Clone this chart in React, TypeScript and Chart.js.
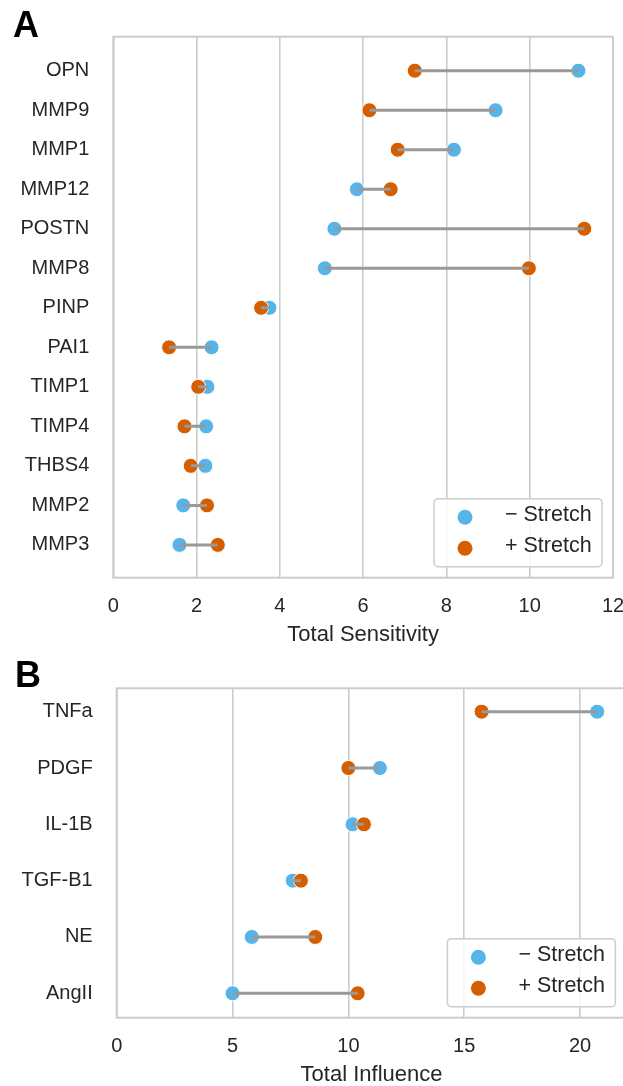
import React, { useEffect, useRef } from 'react';
import { Chart, registerables } from 'chart.js';

Chart.register(...registerables);

// ---------- Data ----------
const markersA = ['OPN', 'MMP9', 'MMP1', 'MMP12', 'POSTN', 'MMP8', 'PINP', 'PAI1', 'TIMP1', 'TIMP4', 'THBS4', 'MMP2', 'MMP3'];
const minusStretchA = [11.17, 9.18, 8.18, 5.85, 5.31, 5.08, 3.75, 2.36, 2.26, 2.23, 2.21, 1.68, 1.59];
const plusStretchA = [7.24, 6.15, 6.83, 6.66, 11.31, 9.98, 3.55, 1.34, 2.04, 1.71, 1.86, 2.25, 2.51];
const xTicksA = [0, 2, 4, 6, 8, 10, 12];

const stimuliB = ['TNFa', 'PDGF', 'IL-1B', 'TGF-B1', 'NE', 'AngII'];
const minusStretchB = [20.74, 11.36, 10.18, 7.6, 5.83, 5.0];
const plusStretchB = [15.75, 10.0, 10.67, 7.95, 8.57, 10.4];
const xTicksB = [0, 5, 10, 15, 20];

const seriesLabels = ['\u2212 Stretch', '+ Stretch'];
const seriesColors = ['#56B4E9', '#D55E00'];

const FONT = "'Liberation Sans', Arial, Helvetica, sans-serif";
const TEXT = '#262626';
const GRID = '#cccccc';

const frameLegendPlugin = {
  id: 'frameLegend',
  beforeDatasetsDraw(chart: any) {
    const { ctx, chartArea: a } = chart;
    ctx.save();
    ctx.strokeStyle = GRID;
    ctx.lineWidth = 2;
    ctx.strokeRect(a.left, a.top, a.right - a.left, a.bottom - a.top);
    ctx.restore();
  },
  afterDraw(chart: any) {
    const { ctx, chartArea: a } = chart;
    const w = 168;
    const h = 68;
    const right = a.right - 11;
    const bottom = a.bottom - 11;
    const left = right - w;
    const top = bottom - h;
    ctx.save();
    ctx.beginPath();
    ctx.roundRect(left, top, w, h, 4);
    ctx.fillStyle = 'rgba(255,255,255,0.85)';
    ctx.fill();
    ctx.strokeStyle = GRID;
    ctx.lineWidth = 1.5;
    ctx.stroke();
    seriesLabels.forEach((lab, k) => {
      const y = top + 18.5 + k * 31;
      ctx.beginPath();
      ctx.arc(left + 31, y, 7.5, 0, Math.PI * 2);
      ctx.fillStyle = seriesColors[k];
      ctx.fill();
      ctx.fillStyle = TEXT;
      ctx.font = `21.5px ${FONT}`;
      ctx.textAlign = 'left';
      ctx.textBaseline = 'middle';
      ctx.fillText(lab, left + 71, y - 2);
    });
    ctx.restore();
  },
};

function makeConfig(
  cats: string[],
  minus: number[],
  plus: number[],
  xTicks: number[],
  xMax: number,
  yMin: number,
  yMax: number,
  yAxisWidth: number,
  title: string,
  padding: any
) {
  const lineSets = cats.map((_, i) => ({
    type: 'scatter',
    data: [
      { x: minus[i], y: i },
      { x: plus[i], y: i },
    ],
    showLine: true,
    borderColor: '#999999',
    borderWidth: 3,
    pointRadius: 0,
    order: 0,
  }));
  const pointSet = (vals: number[], k: number, order: number) => ({
    label: seriesLabels[k],
    data: vals.map((v, i) => ({ x: v, y: i })),
    backgroundColor: seriesColors[k],
    borderColor: '#ffffff',
    borderWidth: 1,
    pointRadius: 7.5,
    order,
  });
  return {
    type: 'scatter',
    data: {
      datasets: [pointSet(minus, 0, 2), pointSet(plus, 1, 1), ...lineSets],
    },
    options: {
      animation: false,
      responsive: false,
      layout: { padding },
      plugins: { legend: { display: false }, tooltip: { enabled: false } },
      scales: {
        x: {
          type: 'linear',
          position: 'bottom',
          min: 0,
          max: xMax,
          afterBuildTicks: (s: any) => {
            s.ticks = xTicks.map((v) => ({ value: v }));
          },
          afterFit: (s: any) => {
            s.height = 82.3;
            s.paddingLeft = 0;
            s.paddingRight = 0;
          },
          grid: { color: GRID, lineWidth: 1.6, drawTicks: false },
          border: { display: false },
          ticks: { color: TEXT, font: { size: 20, family: FONT }, padding: 17, maxRotation: 0 },
          title: {
            display: true,
            text: title,
            color: TEXT,
            font: { size: 22, family: FONT },
            padding: { top: 0, bottom: 12 },
          },
        },
        y: {
          type: 'linear',
          reverse: true,
          min: yMin,
          max: yMax,
          afterBuildTicks: (s: any) => {
            s.ticks = cats.map((_, i) => ({ value: i }));
          },
          afterFit: (s: any) => {
            s.width = yAxisWidth;
            s.paddingTop = 0;
            s.paddingBottom = 0;
          },
          grid: { display: false, drawTicks: false },
          border: { display: false },
          ticks: {
            color: TEXT,
            font: { size: 20, family: FONT },
            padding: 24,
            callback: (v: any) => cats[Math.round(v)] ?? '',
          },
        },
      },
    },
    plugins: [frameLegendPlugin],
  };
}

export default function App() {
  const refA = useRef<HTMLCanvasElement>(null);
  const refB = useRef<HTMLCanvasElement>(null);

  useEffect(() => {
    Chart.defaults.font.family = FONT;
    const a = new Chart(
      refA.current as HTMLCanvasElement,
      makeConfig(markersA, minusStretchA, plusStretchA, xTicksA, 12, -0.86, 12.83, 113.3, 'Total Sensitivity', {
        top: 36.7,
        right: 10,
        bottom: 0,
        left: 0,
      }) as any
    );
    const b = new Chart(
      refB.current as HTMLCanvasElement,
      makeConfig(stimuliB, minusStretchB, plusStretchB, xTicksB, 22, -0.415, 5.433, 116.7, 'Total Influence', {
        top: 28.3,
        right: 13.6,
        bottom: 0,
        left: 0,
      }) as any
    );
    return () => {
      a.destroy();
      b.destroy();
    };
  }, []);

  const letter: React.CSSProperties = {
    position: 'absolute',
    fontFamily: FONT,
    fontWeight: 'bold',
    fontSize: 36,
    lineHeight: '36px',
    color: '#000',
  };

  return (
    <div
      style={{
        position: 'fixed',
        left: 0,
        top: 0,
        width: 623,
        height: 1086,
        overflow: 'hidden',
        background: '#fff',
      }}
    >
      <canvas ref={refA} width={623} height={660} style={{ position: 'absolute', left: 0, top: 0, display: 'block' }} />
      <canvas ref={refB} width={640} height={440} style={{ position: 'absolute', left: 0, top: 660, display: 'block' }} />
      <div style={{ ...letter, left: 13, top: 7 }}>A</div>
      <div style={{ ...letter, left: 15, top: 657 }}>B</div>
    </div>
  );
}
